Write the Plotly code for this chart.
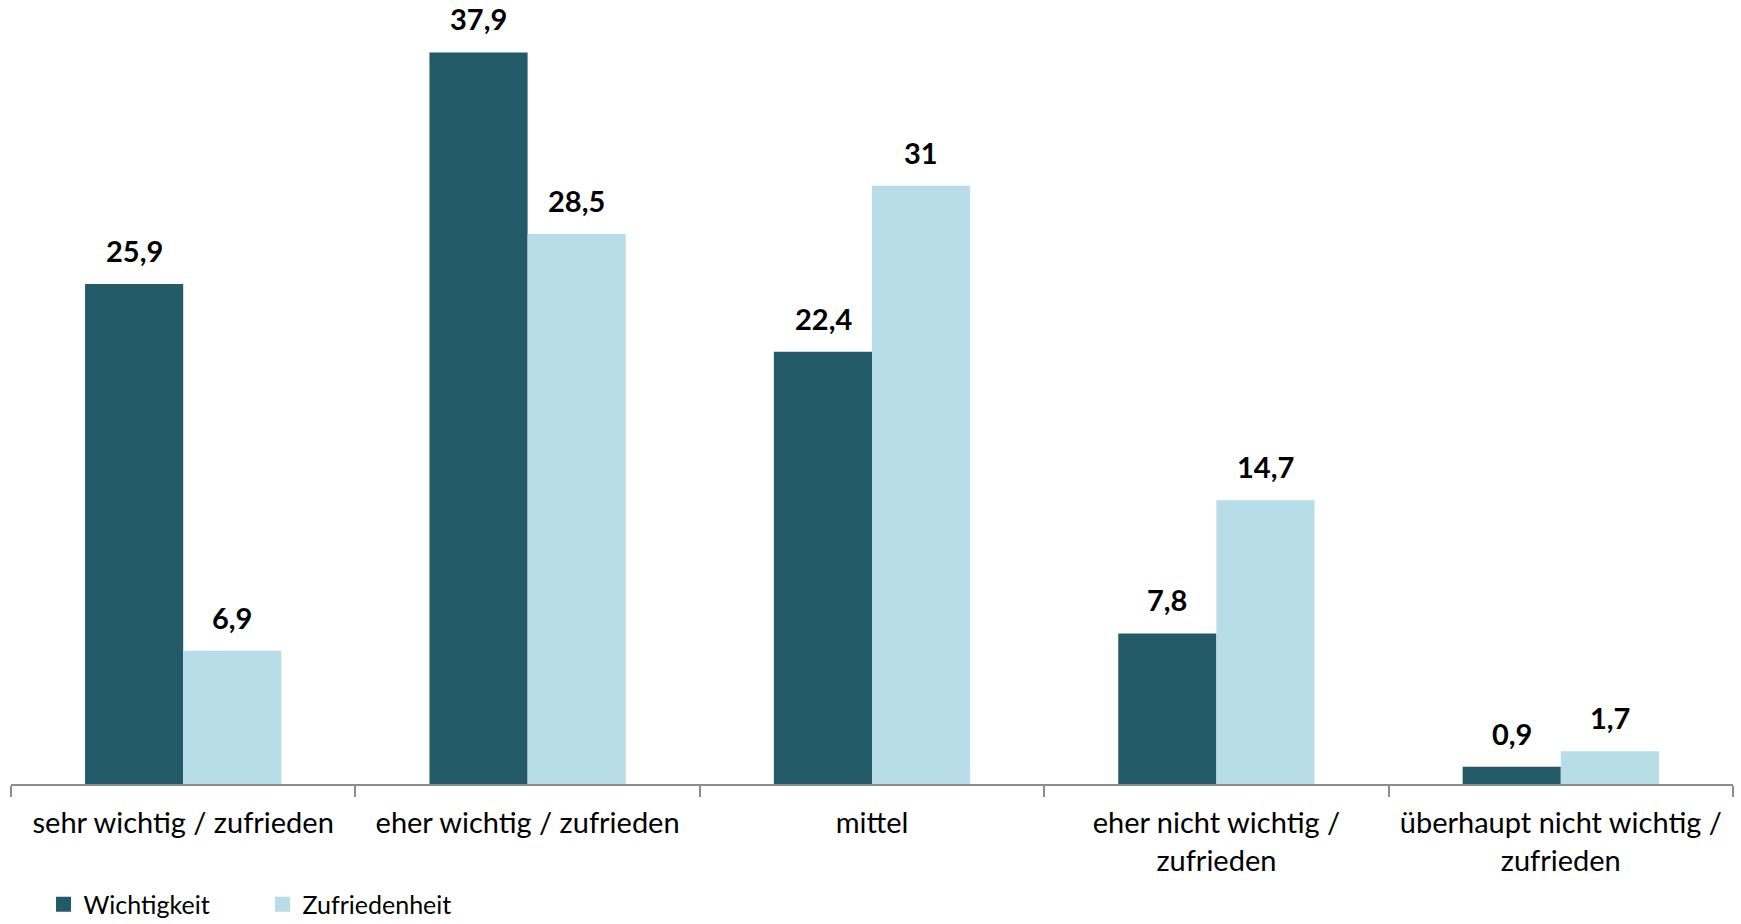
import plotly.graph_objects as go

# Antwortkategorien (mit Zeilenumbruch wie in der Achsenbeschriftung)
categories = [
    "sehr wichtig / zufrieden",
    "eher wichtig / zufrieden",
    "mittel",
    "eher nicht wichtig /<br>zufrieden",
    "überhaupt nicht wichtig /<br>zufrieden",
]
wichtigkeit = [25.9, 37.9, 22.4, 7.8, 0.9]
zufriedenheit = [6.9, 28.5, 31.0, 14.7, 1.7]

series_names = ["Wichtigkeit", "Zufriedenheit"]
colors = ["#235a68", "#b7dde8"]

FONT = "Lato, 'Open Sans', sans-serif"


def fmt(v):
    # deutsche Schreibweise, ganze Zahlen ohne Nachkommastelle
    return str(int(v)) if float(v).is_integer() else f"{v:.1f}".replace(".", ",")


fig = go.Figure()
series = [wichtigkeit, zufriedenheit]
for i, (name, vals, col) in enumerate(zip(series_names, series, colors)):
    fig.add_trace(go.Bar(
        name=name,
        x=categories,
        y=vals,
        offsetgroup=str(i),
        marker=dict(color=col, line=dict(width=0)),
        showlegend=False,
    ))

# Wertbeschriftungen über den Balken
for i, vals in enumerate(series):
    for cat, v in zip(categories, vals):
        fig.add_annotation(
            x=cat, y=v, xref="x", yref="y",
            text=f"<b>{fmt(v)}</b>",
            showarrow=False,
            xshift=(-49 if i == 0 else 49),
            yanchor="bottom",
            yshift=14,
            font=dict(family=FONT, size=29, color="#000000"),
        )

# Legendeneinträge mit quadratischen Symbolen
for name, col in zip(series_names, colors):
    fig.add_trace(go.Scatter(
        x=[None], y=[None], mode="markers", name=name,
        marker=dict(symbol="square", size=15, color=col),
        showlegend=True,
    ))

fig.update_layout(
    barmode="group",
    bargap=0.43,
    bargroupgap=0,
    width=1741,
    height=924,
    margin=dict(l=11, r=8, t=10, b=140, autoexpand=False),
    paper_bgcolor="white",
    plot_bgcolor="white",
    font=dict(family=FONT, color="#000000"),
    legend=dict(
        orientation="h",
        x=0.025, xanchor="left", xref="container",
        y=0.021, yanchor="middle", yref="container",
        font=dict(family=FONT, size=25),
        itemwidth=30,
        entrywidth=174,
        traceorder="normal",
        bgcolor="rgba(0,0,0,0)",
    ),
    showlegend=True,
)

fig.update_xaxes(
    type="category",
    showline=True,
    linecolor="#8c8c8c",
    linewidth=2,
    ticks="outside",
    tickson="boundaries",
    ticklen=11,
    tickwidth=1.5,
    tickcolor="#8c8c8c",
    ticklabelstandoff=12,
    tickfont=dict(family=FONT, size=29, color="#000000"),
    showgrid=False,
    zeroline=False,
    automargin=False,
    fixedrange=True,
)
fig.update_yaxes(
    range=[0, 40.1],
    visible=False,
    showgrid=False,
    zeroline=False,
    automargin=False,
)

fig.write_html("out.html")
